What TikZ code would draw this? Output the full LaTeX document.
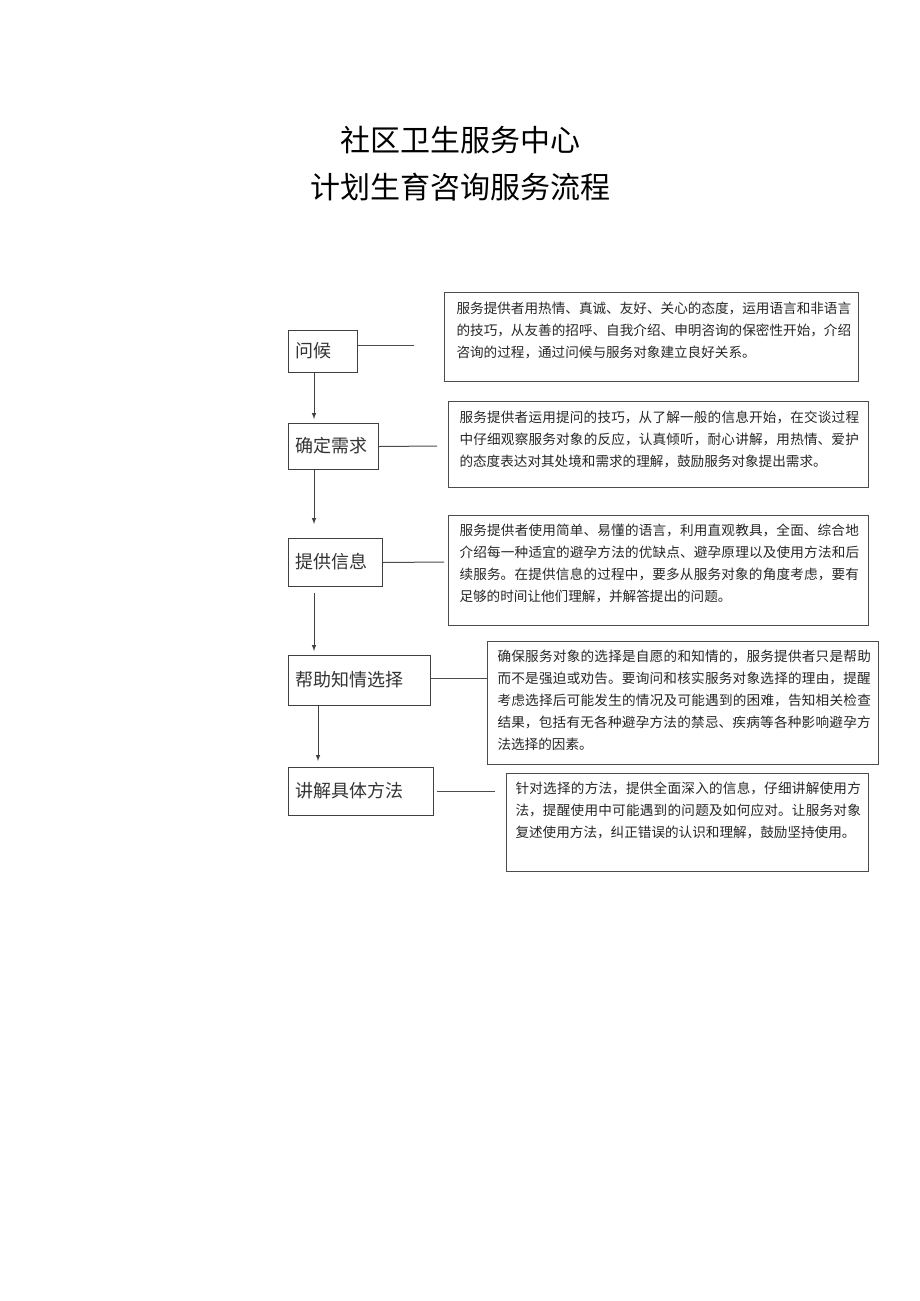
\documentclass[tikz,border=0pt]{standalone}
\usepackage{fontspec}
\setmainfont{Noto Sans CJK SC}
\XeTeXlinebreaklocale "zh"
\XeTeXlinebreakskip=0pt plus 1pt
\begin{document}
\begin{tikzpicture}[x=1pt,y=-1pt,
  stepbox/.style={draw=black!75,line width=1pt,inner sep=0pt,anchor=north west},
  steptext/.style={anchor=west,font=\fontsize{18}{20}\selectfont,text=black!80},
  desc/.style={draw=black!70,line width=1pt,anchor=north west,inner sep=0pt},
  dtext/.style={anchor=north west,font=\fontsize{13.6}{22}\selectfont,align=left,text=black!85},
  link/.style={draw=black!70,line width=1pt},
  arr/.style={draw=black!75,line width=1pt,-latex}]
\useasboundingbox (0,0) rectangle (920,1301);
\node[font=\fontsize{30}{36}\selectfont] (t1) at (460,140) {社区卫生服务中心};
\node[font=\fontsize{30}{36}\selectfont] (t2) at (460,187) {计划生育咨询服务流程};

\node[stepbox,minimum width=69,minimum height=42] (s1) at (288,330) {};
\node[steptext] (s1t) at (292,351) {问候};
\node[stepbox,minimum width=90,minimum height=46] (s2) at (288,423) {};
\node[steptext] (s2t) at (292,446) {确定需求};
\node[stepbox,minimum width=94,minimum height=48] (s3) at (288,538) {};
\node[steptext] (s3t) at (292,562) {提供信息};
\node[stepbox,minimum width=142,minimum height=50] (s4) at (288,655) {};
\node[steptext] (s4t) at (292,680) {帮助知情选择};
\node[stepbox,minimum width=145,minimum height=48] (s5) at (288,767) {};
\node[steptext] (s5t) at (292,791) {讲解具体方法};

\node[desc,minimum width=414,minimum height=89] (d1) at (444,292) {};
\node[dtext,text width=395] (d1t) at (453,298) {服务提供者用热情、真诚、友好、关心的态度，运用语言和非语言的技巧，从友善的招呼、自我介绍、申明咨询的保密性开始，介绍咨询的过程，通过问候与服务对象建立良好关系。};
\node[desc,minimum width=420,minimum height=86] (d2) at (448,401) {};
\node[dtext,text width=405] (d2t) at (456,407) {服务提供者运用提问的技巧，从了解一般的信息开始，在交谈过程中仔细观察服务对象的反应，认真倾听，耐心讲解，用热情、爱护的态度表达对其处境和需求的理解，鼓励服务对象提出需求。};
\node[desc,minimum width=420,minimum height=110] (d3) at (448,515) {};
\node[dtext,text width=405] (d3t) at (456,520) {服务提供者使用简单、易懂的语言，利用直观教具，全面、综合地介绍每一种适宜的避孕方法的优缺点、避孕原理以及使用方法和后续服务。在提供信息的过程中，要多从服务对象的角度考虑，要有足够的时间让他们理解，并解答提出的问题。};
\node[desc,minimum width=391,minimum height=123] (d4) at (487,641) {};
\node[dtext,text width=380] (d4t) at (494,646) {确保服务对象的选择是自愿的和知情的，服务提供者只是帮助而不是强迫或劝告。要询问和核实服务对象选择的理由，提醒考虑选择后可能发生的情况及可能遇到的困难，告知相关检查结果，包括有无各种避孕方法的禁忌、疾病等各种影响避孕方法选择的因素。};
\node[desc,minimum width=362,minimum height=98] (d5) at (506,773) {};
\node[dtext,text width=352] (d5t) at (512,778) {针对选择的方法，提供全面深入的信息，仔细讲解使用方法，提醒使用中可能遇到的问题及如何应对。让服务对象复述使用方法，纠正错误的认识和理解，鼓励坚持使用。};

\coordinate (l1a) at (358,345); \coordinate (l1b) at (414,345);
\draw[link] (l1a) -- (l1b);
\coordinate (l2) at (437,446); \draw[link] (s2.east) -- (l2);
\coordinate (l3) at (444,562); \draw[link] (s3.east) -- (l3);
\coordinate (l4) at (487,678); \draw[link] (s4.east |- l4) -- (l4);
\coordinate (l5a) at (437,791); \coordinate (l5b) at (495,791); \draw[link] (l5a) -- (l5b);

\coordinate (a1) at (314,372); \coordinate (b1) at (314,419);
\coordinate (a2) at (314,469); \coordinate (b2) at (314,524);
\coordinate (a3) at (314,593); \coordinate (b3) at (314,651);
\coordinate (a4) at (318,705); \coordinate (b4) at (318,761);
\draw[arr] (a1) -- (b1); \draw[arr] (a2) -- (b2);
\draw[arr] (a3) -- (b3); \draw[arr] (a4) -- (b4);
\end{tikzpicture}
\end{document}
